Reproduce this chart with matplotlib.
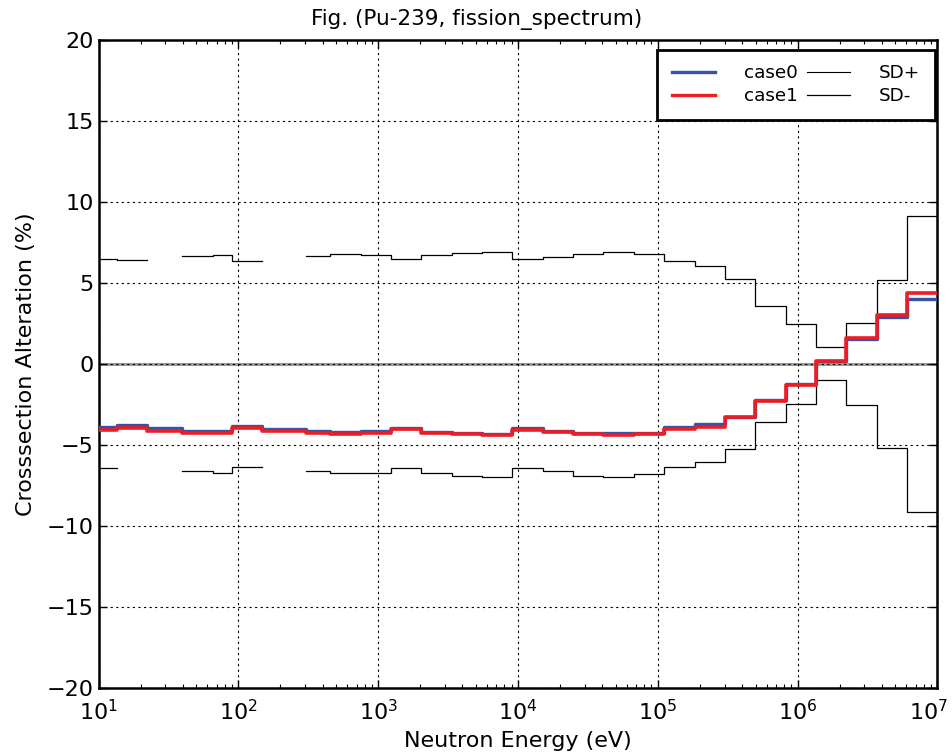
import numpy as np
import matplotlib
matplotlib.use("Agg")
import matplotlib.pyplot as plt
import matplotlib.transforms as mtransforms
from matplotlib.lines import Line2D

plt.rcParams['font.family'] = ['DejaVu Sans']
plt.rcParams['axes.unicode_minus'] = True

# Energy group boundaries (eV), low to high
edges = [10, 13.5, 22.1, 39.4, 66.0, 90.6, 148, 303, 454, 748, 1234, 2035,
         3355, 5531, 9119, 15034, 24788, 40868, 67379, 111090, 183160,
         301970, 497870, 820850, 1353400, 2231300, 3678800, 6065300, 1.0e7]

# Cross-section alteration per group (%)
case0 = [-3.89, -3.79, -3.97, -4.11, -4.16, -3.82, -3.99, -4.14, -4.20, -4.16,
         -3.92, -4.18, -4.24, -4.30, -3.97, -4.14, -4.24, -4.28, -4.23, -3.89,
         -3.72, -3.25, -2.22, -1.25, 0.16, 1.52, 2.92, 3.99]
case1 = [-4.06, -3.97, -4.14, -4.28, -4.28, -3.96, -4.14, -4.28, -4.34, -4.26,
         -4.02, -4.28, -4.34, -4.40, -4.07, -4.22, -4.32, -4.40, -4.33, -4.03,
         -3.87, -3.29, -2.26, -1.27, 0.18, 1.60, 3.00, 4.36]
sd_plus = [6.46, 6.40, np.nan, 6.67, 6.73, 6.36, np.nan, 6.65, 6.77, 6.72,
           6.46, 6.73, 6.83, 6.89, 6.46, 6.59, 6.79, 6.89, 6.77, 6.34,
           6.05, 5.23, 3.56, 2.45, 1.05, 2.51, 5.17, 9.15]
sd_minus = [-6.44, np.nan, np.nan, -6.58, -6.71, -6.38, np.nan, -6.60, -6.75, -6.73,
            -6.42, -6.75, -6.89, -6.96, -6.44, -6.59, -6.89, -6.96, -6.80, -6.38,
            -6.07, -5.27, -3.60, -2.47, -1.01, -2.55, -5.19, -9.15]

title = "Fig. (Pu-239, fission_spectrum)"
xlabel = "Neutron Energy (eV)"
ylabel = "Crosssection Alteration (%)"
xticks = [1e1, 1e2, 1e3, 1e4, 1e5, 1e6, 1e7]
yticks = [-20, -15, -10, -5, 0, 5, 10, 15, 20]
series_labels = ['case0', 'case1', 'SD+', 'SD-']

BLUE = '#3552a5'
RED = '#ee1c25'


def stepped(vals):
    return list(vals) + [vals[-1]]


fig = plt.figure(figsize=(9.53, 7.53), dpi=100)
ax = fig.add_axes([0.1034, 0.0863, 0.8803, 0.8606])

ax.axhline(0, color='#999999', lw=2.2, zorder=1)
ax.grid(True, which='major', color='black', linestyle=(0, (2, 3)), lw=0.8)

ax.step(edges, stepped(sd_plus), where='post', color='black', lw=0.9, zorder=3)
ax.step(edges, stepped(sd_minus), where='post', color='black', lw=0.9, zorder=3)
ax.step(edges, stepped(case0), where='post', color=BLUE, lw=2.4, zorder=4)
ax.step(edges, stepped(case1), where='post', color=RED, lw=2.6, zorder=5)

ax.set_xscale('log')
ax.set_xlim(10, 1e7)
ax.set_ylim(-20, 20)
ax.set_xticks(xticks)
ax.set_yticks(yticks)

ax.tick_params(which='both', direction='in', top=True, right=True, labelsize=16)
ax.tick_params(which='major', length=6, width=1)
ax.tick_params(which='minor', length=3, width=0.8)
ax.tick_params(axis='x', which='both', pad=8)
for s in ax.spines.values():
    s.set_linewidth(1.8)

# keep the rightmost decade label inside the figure
last = ax.xaxis.get_major_ticks()[-1].label1
last.set_transform(last.get_transform() +
                   mtransforms.ScaledTranslation(-9 / 100, 0, fig.dpi_scale_trans))

fig.suptitle(title, x=0.5, y=1 - 19 / 753, va='center', fontsize=15.5)
ax.set_xlabel(xlabel, fontsize=16, labelpad=5)
ax.set_ylabel(ylabel, fontsize=16, labelpad=7.5)

handles = [Line2D([], [], color=BLUE, lw=2.4),
           Line2D([], [], color=RED, lw=2.4),
           Line2D([], [], color='black', lw=0.8),
           Line2D([], [], color='black', lw=0.9)]
leg = ax.legend(handles, series_labels, ncol=2, loc='upper right',
                bbox_to_anchor=(0.997, 0.985), borderaxespad=0,
                fontsize=13.2, handlelength=2.35, handletextpad=1.6,
                columnspacing=0.45, labelspacing=0.25, borderpad=0.8,
                fancybox=False, framealpha=1, edgecolor='black')
leg.get_frame().set_linewidth(2)

fig.savefig('out.png', dpi=100)
